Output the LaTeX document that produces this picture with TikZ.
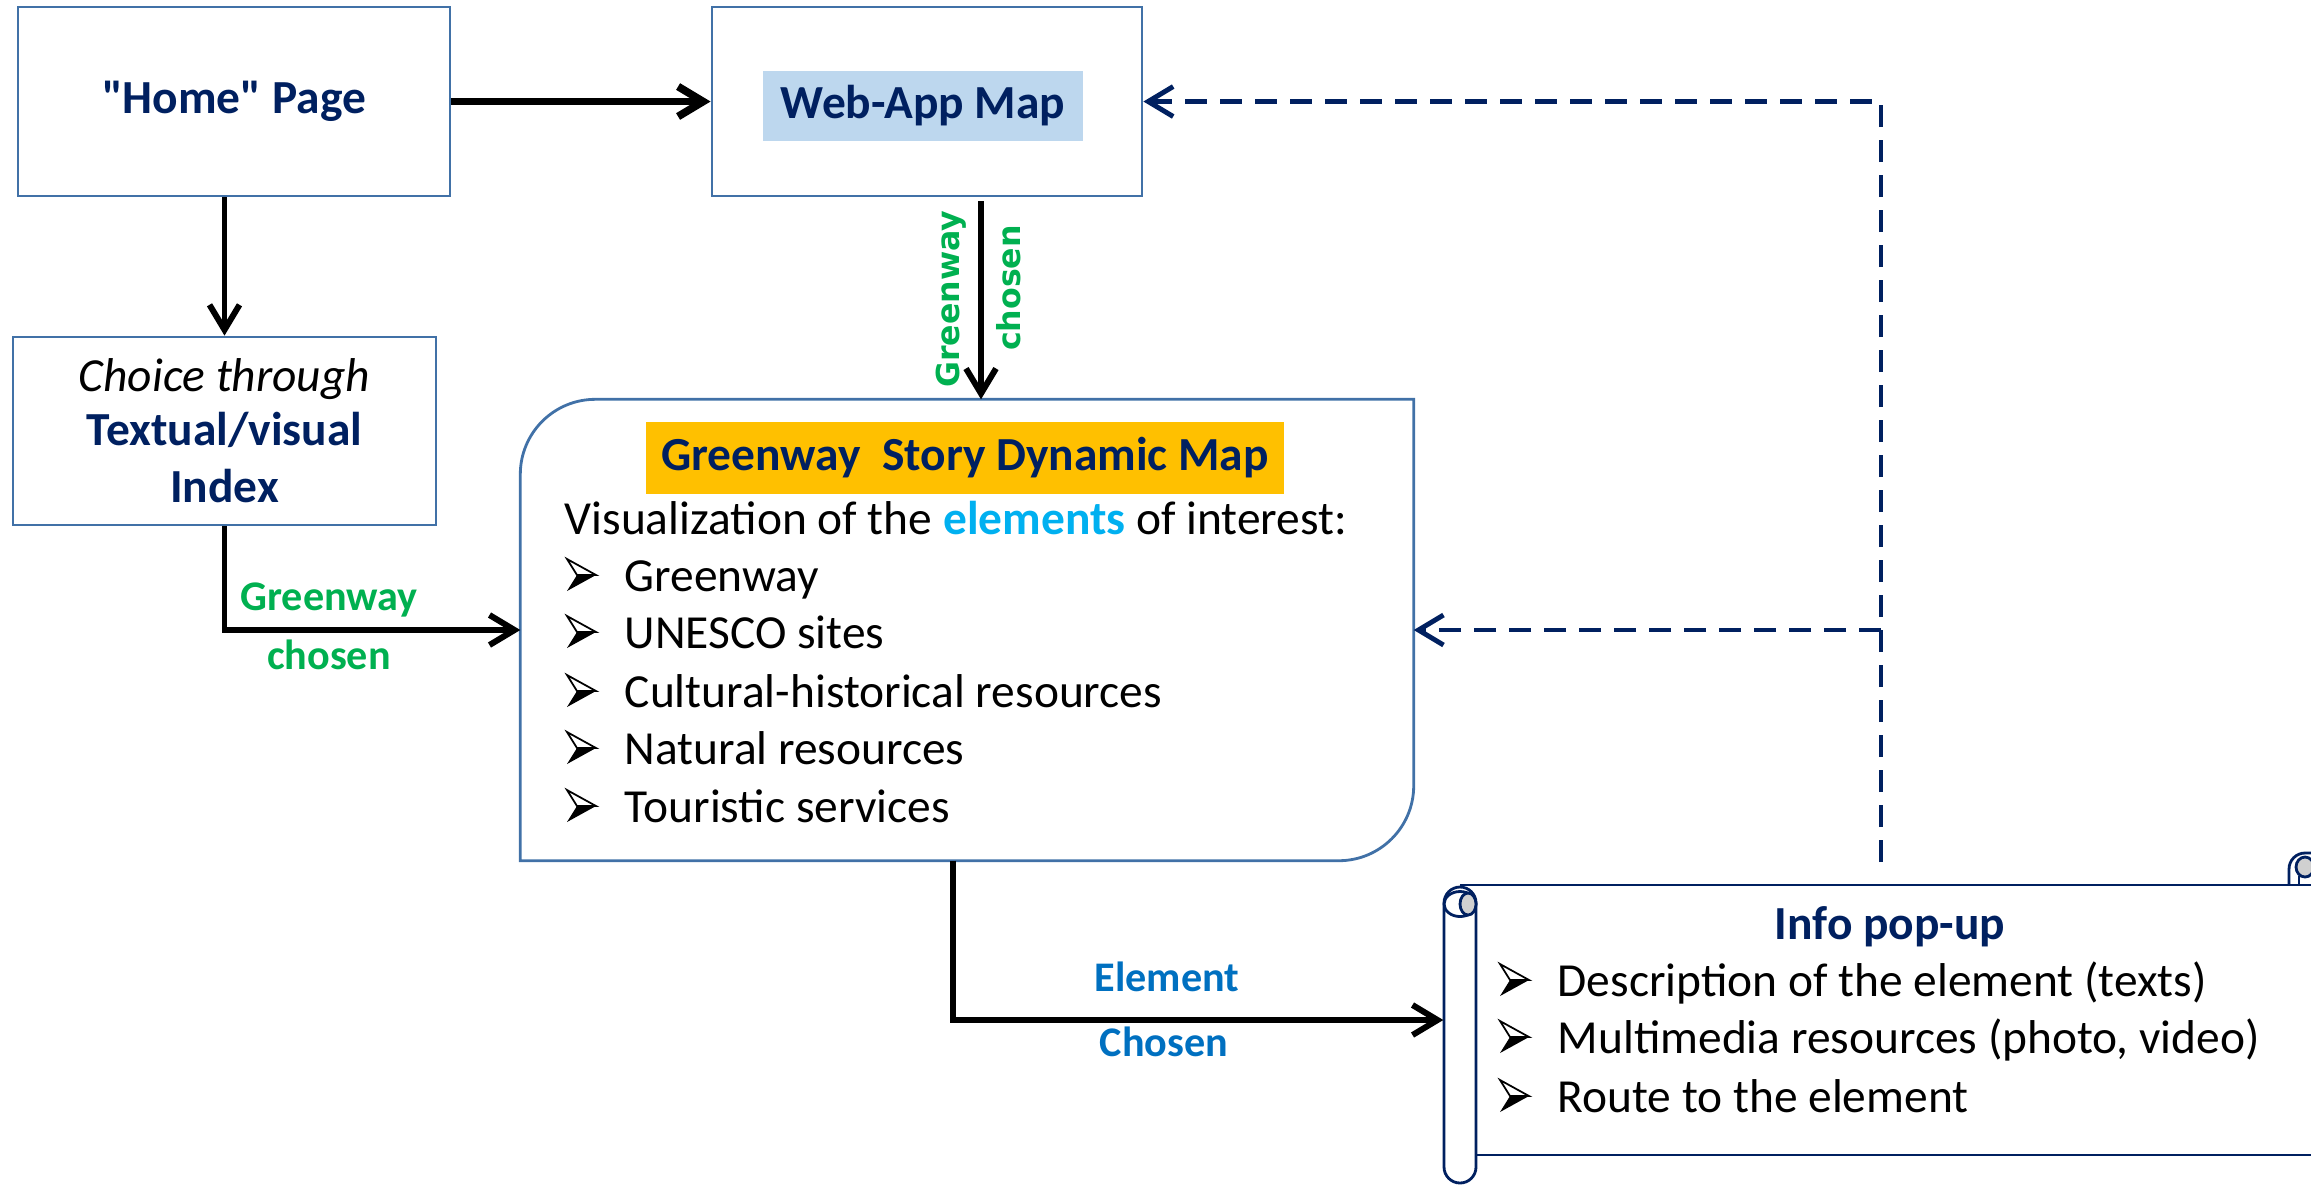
\documentclass[tikz,border=0pt]{standalone}
\usepackage{fontspec}
\setmainfont{Carlito}
\newfontfamily\dejavu{DejaVu Sans}
\usetikzlibrary{arrows.meta, positioning, calc}
\definecolor{storyNavy}{RGB}{0,32,96}
\definecolor{boxBlue}{RGB}{65,113,167}
\definecolor{webFill}{RGB}{189,215,238}
\definecolor{titleOrange}{RGB}{255,192,0}
\definecolor{chosenGreen}{RGB}{0,176,80}
\definecolor{elemCyan}{RGB}{0,176,240}
\definecolor{elemBlue}{RGB}{0,112,192}
\definecolor{rollGray}{RGB}{208,208,208}
\tikzset{
  pagebox/.style={draw=boxBlue, line width=0.8pt, inner sep=0pt, align=center},
  boldlbl/.style={font=\fontsize{13.5}{16.2}\selectfont\bfseries, text=storyNavy},
  itemtxt/.style={anchor=base west, inner sep=0pt, font=\fontsize{13.5}{16.2}\selectfont},
  chosenlbl/.style={font=\fontsize{12}{14}\selectfont\bfseries, text=chosenGreen},
  sidelbl/.style={font=\dejavu\fontsize{9}{11}\selectfont\bfseries, text=chosenGreen, rotate=90},
  flowarrow/.style={draw=black, line width=1.7pt, -{Straight Barb[length=2.5mm,width=3mm]}},
  backarrow/.style={draw=storyNavy, line width=1.4pt, dash pattern=on 2.2mm off 1.3mm, -{Straight Barb[length=2.5mm,width=3mm]}},
  scrollline/.style={draw=storyNavy, line width=0.8pt},
  listarrow/.pic={
    \draw[line width=0.5pt, fill=white, line join=miter] (0,-32) -- (29,-16) -- (10,-16) -- cycle;
    \fill[black] (10,-16) -- (29,-16) -- (0,0) -- cycle;
  }
}
\begin{document}
\begin{tikzpicture}[x=0.1mm, y=-0.1mm]
\useasboundingbox (0,0) rectangle (2311,1184);

\node[pagebox, minimum width=43.2mm, minimum height=18.9mm, boldlbl] (home) at (234,101.5) {\raisebox{-0.5mm}{\textquotedbl Home\textquotedbl\ Page}};
\node[pagebox, minimum width=43mm, minimum height=18.9mm] (web) at (927,101.5) {};
\node[fill=webFill, minimum width=32mm, minimum height=7mm, inner sep=0pt, boldlbl] (weblbl) at (923,106) {\raisebox{-0.3mm}{Web-App Map}};
\node[pagebox, minimum width=42.3mm, minimum height=18.8mm, font=\fontsize{13.5}{16.2}\selectfont] (choice) at (224.5,431)
  {\raisebox{-0.3mm}{\itshape Choice through}\\ {\bfseries\color{storyNavy}Textual/visual}\\ {\bfseries\color{storyNavy}Index}};

\node[minimum width=89.2mm, minimum height=46mm, inner sep=0pt] (story) at (967,630) {};
\draw[draw=boxBlue, line width=0.8pt] (story.north east) -- ([yshift=7.5mm]story.south east)
  arc[start angle=0, end angle=-90, radius=7.5mm] -- (story.south west) -- ([yshift=-7.5mm]story.north west)
  arc[start angle=180, end angle=90, radius=7.5mm] -- cycle;
\node[fill=titleOrange, minimum width=63.8mm, minimum height=7.2mm, inner sep=0pt, boldlbl] (storytitle) at (965,458) {\raisebox{-0.5mm}{Greenway\ \ Story Dynamic Map}};
\node[itemtxt] (vis) at (564,534) {Visualization of the {\bfseries\color{elemCyan}elements} of interest:};
\node[itemtxt] (it1) at (624,591) {Greenway};
\node[itemtxt] (it2) at (624,648) {UNESCO sites};
\node[itemtxt] (it3) at (624,707) {Cultural-historical resources};
\node[itemtxt] (it4) at (624,764) {Natural resources};
\node[itemtxt] (it5) at (624,822) {Touristic services};
\pic at ([xshift=-5.7mm]it1.base west) {listarrow};
\pic at ([xshift=-5.7mm]it2.base west) {listarrow};
\pic at ([xshift=-5.7mm]it3.base west) {listarrow};
\pic at ([xshift=-5.7mm]it4.base west) {listarrow};
\pic at ([xshift=-5.7mm]it5.base west) {listarrow};

\node[minimum width=86.7mm, minimum height=27mm, inner sep=0pt] (info) at (1877.5,1020) {};
\draw[scrollline] (1460,885) -- (2340,885);
\draw[scrollline] (1476,1155) -- (2340,1155);
\draw[scrollline, fill=white, rounded corners=1.6mm] (1444,887) rectangle (1476,1183);
\draw[scrollline] (1460,904) ellipse [x radius=1.6mm, y radius=1.25mm];
\draw[scrollline, fill=rollGray] (1468,904) ellipse [x radius=0.8mm, y radius=1.1mm];
\draw[scrollline, rounded corners=1.6mm] (2289,885) -- (2289,853) -- (2340,853);
\draw[scrollline, fill=rollGray] (2305,867) ellipse [x radius=0.9mm, y radius=1mm];
\draw[scrollline] (2299,876) -- (2299,885);
\node[boldlbl, anchor=base] (infotitle) at (1890,939) {Info pop-up};
\node[itemtxt] (inf1) at (1557,996) {Description of the element (texts)};
\node[itemtxt] (inf2) at (1557,1053) {Multimedia resources (photo, video)};
\node[itemtxt] (inf3) at (1557,1112) {Route to the element};
\pic at ([xshift=-5.7mm]inf1.base west) {listarrow};
\pic at ([xshift=-5.7mm]inf2.base west) {listarrow};
\pic at ([xshift=-5.7mm]inf3.base west) {listarrow};

\draw[flowarrow, line width=2.2pt] (home.east) -- (web.west);
\draw[flowarrow] (choice.north |- home.south) -- (choice.north);
\draw[flowarrow] (choice.south) |- (story.west);
\node[chosenlbl] (gw1) at (329,600) {Greenway};
\node[chosenlbl] (ch1) at (329,655) {chosen};

\coordinate (dropx) at (981,0);
\draw[flowarrow] ([yshift=-0.4mm]web.south -| dropx) -- (story.north -| dropx);
\node[sidelbl] (gw2) at (951,299) {Greenway};
\node[sidelbl] (ch2) at (1009,288) {chosen};

\coordinate (pickx) at (953,0);
\draw[flowarrow] (story.south -| pickx) |- (info.west);
\node[chosenlbl, text=elemBlue] (el) at (1167,977) {Element};
\node[chosenlbl, text=elemBlue] (ec) at (1164,1042) {Chosen};

\coordinate (loopx) at (1881,862);
\draw[backarrow] (loopx) |- (web.east);
\draw[backarrow] (loopx |- story.east) -- (story.east);
\end{tikzpicture}
\end{document}
